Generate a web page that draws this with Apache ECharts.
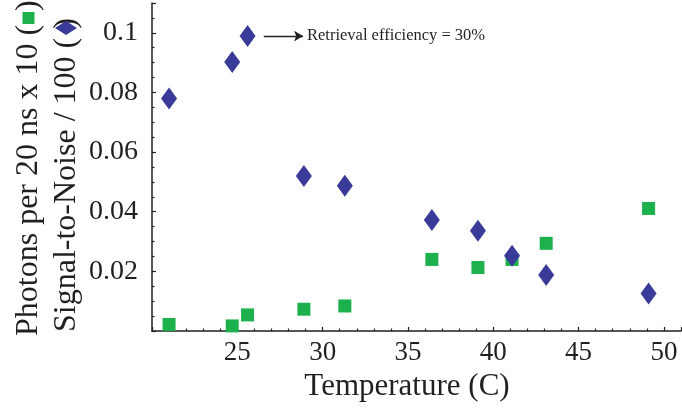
<!DOCTYPE html>
<html>
<head>
<meta charset="utf-8">
<script src="https://cdn.jsdelivr.net/npm/echarts@6/dist/echarts.min.js"></script>
<style>
  html, body { margin: 0; padding: 0; background: #fff; }
  #chart { width: 682px; height: 408px; }
</style>
</head>
<body>
<div id="chart"></div>
<script>
// temperature (C) of each measurement
const temps = [21.0, 24.7, 25.6, 28.9, 31.3, 36.4, 39.1, 41.1, 43.1, 49.1];
// photons per 20 ns x 10 (green squares)
const photons = [0.0022, 0.0017, 0.0054, 0.0073, 0.0084, 0.0240, 0.0213, 0.0240, 0.0294, 0.0411];
// signal-to-noise / 100 (blue diamonds)
const snr = [0.0780, 0.0902, 0.0989, 0.0520, 0.0487, 0.0372, 0.0336, 0.0252, 0.0188, 0.0126];

const xTicks = [25, 30, 35, 40, 45, 50];
const yTicks = [0.02, 0.04, 0.06, 0.08, 0.1];

const serif = '"Liberation Serif", "Times New Roman", serif';
const ink = '#231f20';
const green = '#1cb14c';
const blue = '#3a3a98';

const chart = echarts.init(document.getElementById('chart'));

const pairs = (ys) => temps.map((t, i) => [t, ys[i]]);

// rotated y title line with an empty slot in the brackets for the marker
const yTitle = (label, x, y, gap) => ({
  type: 'text',
  x: x,
  y: y,
  rotation: Math.PI / 2,
  style: {
    text: label + ' ({g| })',
    font: '32px ' + serif,
    fill: ink,
    align: 'left',
    verticalAlign: 'middle',
    rich: { g: { width: gap } }
  }
});

const option = {
  animation: false,
  grid: { left: 152, right: 1, top: 3, bottom: 77 },
  xAxis: {
    type: 'value',
    min: 20,
    max: 51,
    interval: 5,
    axisLine: { lineStyle: { color: ink, width: 1.5 } },
    axisTick: { inside: true, length: 4, lineStyle: { color: ink, width: 1.2 } },
    minorTick: { show: true, splitNumber: 5, length: 2.5, lineStyle: { color: ink, width: 1.2 } },
    splitLine: { show: false },
    axisLabel: {
      showMinLabel: false,
      showMaxLabel: false,
      fontFamily: serif,
      fontSize: 27,
      color: ink,
      margin: 8,
      formatter: (v) => (xTicks.includes(v) ? String(v) : '')
    }
  },
  yAxis: {
    type: 'value',
    min: 0,
    max: 0.11,
    interval: 0.02,
    axisLine: { show: true, lineStyle: { color: ink, width: 1.5 } },
    axisTick: { show: true, inside: true, length: 4, lineStyle: { color: ink, width: 1.2 } },
    minorTick: { show: true, splitNumber: 4, length: 2.5, lineStyle: { color: ink, width: 1.2 } },
    splitLine: { show: false },
    axisLabel: {
      showMinLabel: false,
      showMaxLabel: false,
      fontFamily: serif,
      fontSize: 28,
      color: ink,
      margin: 14,
      formatter: (v) => (yTicks.some((t) => Math.abs(t - v) < 1e-9) ? String(+v.toFixed(2)) : '')
    }
  },
  graphic: [
    yTitle('Photons per 20 ns x 10', 28.5, 336, 14),
    yTitle('Signal-to-Noise / 100', 67, 332, 9),
    // legend keys sitting inside the brackets of the titles
    {
      type: 'rect',
      shape: { x: 22.5, y: 12, width: 12, height: 12 },
      style: { fill: green }
    },
    {
      type: 'polygon',
      shape: { points: [[55, 28], [66, 21], [77, 28], [66, 35]] },
      style: { fill: blue }
    },
    {
      type: 'text',
      x: 407,
      y: 387,
      style: {
        text: 'Temperature (C)',
        font: '31px ' + serif,
        fill: ink,
        align: 'center',
        verticalAlign: 'middle'
      }
    }
  ],
  series: [
    {
      name: 'Photons',
      type: 'scatter',
      symbol: 'rect',
      symbolSize: 13,
      itemStyle: { color: green, opacity: 1 },
      data: pairs(photons)
    },
    {
      name: 'Signal-to-Noise',
      type: 'scatter',
      symbol: 'diamond',
      symbolSize: [16, 22],
      itemStyle: { color: blue, opacity: 1 },
      data: pairs(snr),
      markLine: {
        silent: true,
        symbol: ['none', 'arrow'],
        symbolSize: [8, 9],
        lineStyle: { color: ink, width: 1.3, type: 'solid' },
        label: {
          position: 'end',
          distance: 4,
          formatter: 'Retrieval efficiency = 30%',
          fontFamily: serif,
          fontSize: 16.5,
          color: ink
        },
        data: [[{ coord: [26.55, 0.0989] }, { coord: [28.85, 0.0989] }]]
      }
    }
  ]
};

chart.setOption(option);
</script>
</body>
</html>
